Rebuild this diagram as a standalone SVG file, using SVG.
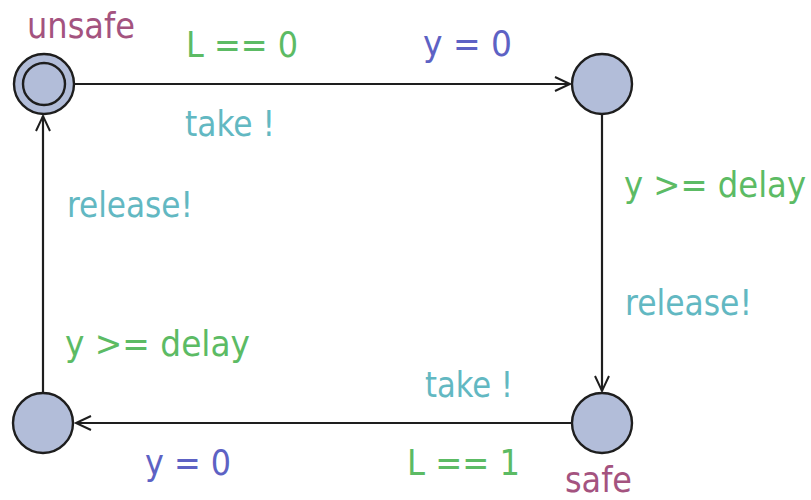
<svg xmlns="http://www.w3.org/2000/svg" width="811" height="500" viewBox="0 0 811 500">
<style>
text{font-family:"DejaVu Sans Condensed","DejaVu Sans",sans-serif;font-size:36px}
.guard{fill:#5cbb64}
.sync{fill:#62b8c2}
.assign{fill:#5d62c4}
.name{fill:#a4537f}
.loc{fill:#b2bdd9;stroke:#1e1e1e;stroke-width:2.4}
.edge{fill:none;stroke:#1e1e1e;stroke-width:2.2}
</style>
<defs>
<marker id="arr" markerUnits="userSpaceOnUse" markerWidth="30" markerHeight="30" refX="0" refY="0" viewBox="-15 -15 30 30" orient="auto" overflow="visible">
<path d="M-15,-7 L0,0 L-15,7" fill="none" stroke="#1e1e1e" stroke-width="2"/>
</marker>
</defs>
<rect width="811" height="500" fill="#fff"/>
<g id="connectors">
<g id="e1"><line class="edge" x1="75" y1="84" x2="570" y2="84" marker-end="url(#arr)"/></g>
<g id="e2"><line class="edge" x1="602" y1="115" x2="602" y2="391" marker-end="url(#arr)"/></g>
<g id="e3"><line class="edge" x1="571" y1="423" x2="76" y2="423" marker-end="url(#arr)"/></g>
<g id="e4"><line class="edge" x1="43" y1="392" x2="43" y2="116" marker-end="url(#arr)"/></g>
</g>
<g id="labels">
<text class="guard" x="186" y="57" textLength="112" lengthAdjust="spacingAndGlyphs">L == 0</text>
<text class="assign" x="423" y="56" textLength="89" lengthAdjust="spacingAndGlyphs">y = 0</text>
<text class="sync" x="185" y="136" textLength="90" lengthAdjust="spacingAndGlyphs">take !</text>
<text class="guard" x="624" y="197" textLength="182" lengthAdjust="spacingAndGlyphs">y &gt;= delay</text>
<text class="sync" x="625" y="315" textLength="127" lengthAdjust="spacingAndGlyphs">release!</text>
<text class="sync" x="425" y="397" textLength="88" lengthAdjust="spacingAndGlyphs">take !</text>
<text class="guard" x="407" y="475" textLength="113" lengthAdjust="spacingAndGlyphs">L == 1</text>
<text class="assign" x="145" y="475" textLength="86" lengthAdjust="spacingAndGlyphs">y = 0</text>
<text class="guard" x="65" y="356" textLength="185" lengthAdjust="spacingAndGlyphs">y &gt;= delay</text>
<text class="sync" x="67" y="217" textLength="126" lengthAdjust="spacingAndGlyphs">release!</text>
</g>
<g id="unsafe">
<circle class="loc" cx="44" cy="84" r="30"/>
<circle class="loc" cx="44" cy="84" r="21"/>
<text class="name" x="27" y="38" textLength="108" lengthAdjust="spacingAndGlyphs">unsafe</text>
</g>
<g id="top_right"><circle class="loc" cx="602" cy="84" r="30"/></g>
<g id="safe">
<circle class="loc" cx="602" cy="423" r="30"/>
<text class="name" x="565" y="492" textLength="67" lengthAdjust="spacingAndGlyphs">safe</text>
</g>
<g id="bottom_left"><circle class="loc" cx="43" cy="423" r="30"/></g>
</svg>
